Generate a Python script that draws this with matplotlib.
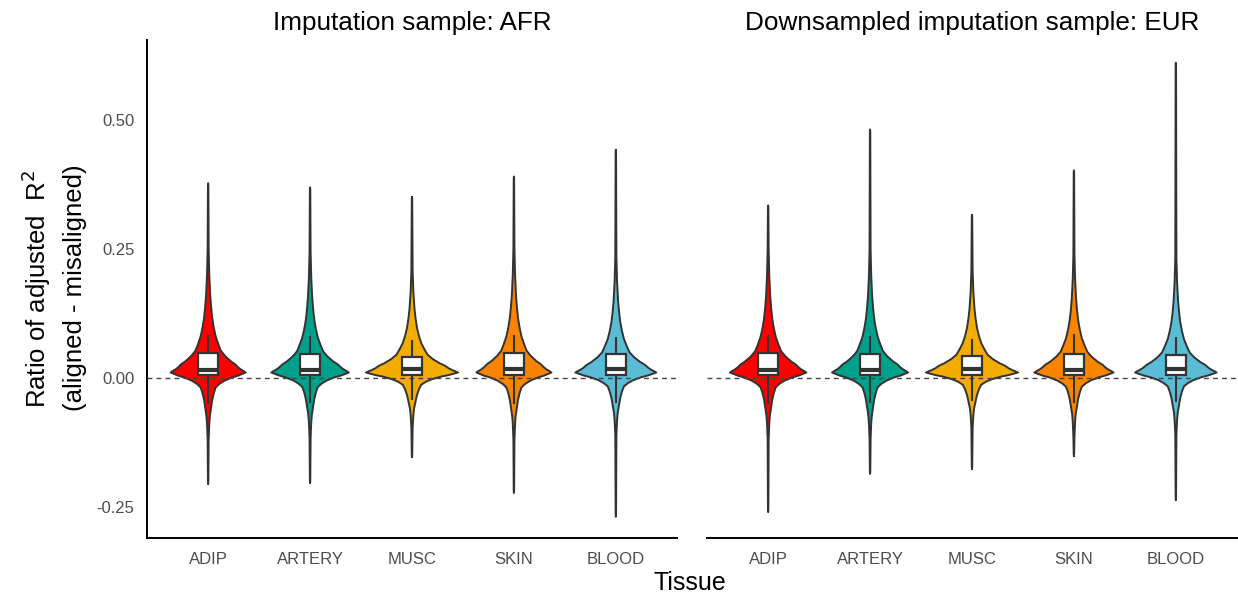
import numpy as np
import matplotlib.pyplot as plt
from matplotlib.patches import Rectangle

plt.rcParams['font.family'] = ['Liberation Sans', 'DejaVu Sans']

tissues = ["ADIP", "ARTERY", "MUSC", "SKIN", "BLOOD"]
colors = ["#FF0000", "#00A08A", "#F2AD00", "#F98400", "#5BBCD6"]
panel_titles = ["Imputation sample: AFR", "Downsampled imputation sample: EUR"]

# values, one entry per tissue
afr_min = [-0.205, -0.203, -0.153, -0.222, -0.268]
afr_max = [0.377, 0.369, 0.351, 0.390, 0.442]
afr_q1 = [0.007, 0.007, 0.007, 0.007, 0.007]
afr_med = [0.016, 0.016, 0.017, 0.017, 0.017]
afr_q3 = [0.048, 0.046, 0.041, 0.048, 0.046]
afr_wlo = [-0.050, -0.048, -0.043, -0.050, -0.048]
afr_whi = [0.083, 0.081, 0.073, 0.084, 0.080]
afr_peak = [0.368, 0.380, 0.451, 0.368, 0.397]   # violin half width at the mode

eur_min = [-0.259, -0.185, -0.176, -0.151, -0.236]
eur_max = [0.334, 0.481, 0.316, 0.402, 0.610]
eur_q1 = [0.007, 0.007, 0.007, 0.007, 0.007]
eur_med = [0.016, 0.016, 0.017, 0.016, 0.017]
eur_q3 = [0.048, 0.046, 0.042, 0.046, 0.044]
eur_wlo = [-0.050, -0.048, -0.045, -0.048, -0.046]
eur_whi = [0.083, 0.081, 0.075, 0.086, 0.080]
eur_peak = [0.375, 0.373, 0.451, 0.389, 0.400]

mode = 0.011
# violin outline (offset from mode, relative width)
up_off = [0.0, 0.003, 0.006, 0.010, 0.016, 0.022, 0.032, 0.042, 0.055, 0.070, 0.087, 0.105, 0.126, 0.150, 0.190, 0.240]
up_w = [1.0, 0.94, 0.87, 0.80, 0.72, 0.60, 0.45, 0.34, 0.27, 0.20, 0.15, 0.11, 0.08, 0.055, 0.03, 0.014]
lo_off = [0.0, -0.003, -0.006, -0.010, -0.016, -0.022, -0.029, -0.040, -0.054, -0.074, -0.085, -0.100, -0.130]
lo_w = [1.0, 0.90, 0.80, 0.62, 0.43, 0.30, 0.20, 0.15, 0.107, 0.067, 0.045, 0.03, 0.014]
tail_w = 0.002

panels = [
    (afr_min, afr_max, afr_q1, afr_med, afr_q3, afr_wlo, afr_whi, afr_peak),
    (eur_min, eur_max, eur_q1, eur_med, eur_q3, eur_wlo, eur_whi, eur_peak),
]

fig = plt.figure(figsize=(12.38, 5.97), dpi=100)
H = 597.0
W = 1238.0
ax_l = fig.add_axes([147 / W, (H - 538) / H, 530 / W, 498 / H])
ax_r = fig.add_axes([707 / W, (H - 538) / H, 530 / W, 498 / H])

edge = "#333333"
for k, ax in enumerate([ax_l, ax_r]):
    vmin, vmax, q1, med, q3, wlo, whi, peak = panels[k]
    for i in range(len(tissues)):
        c = i + 1
        s = afr_peak[0] / peak[i]
        ys = [vmin[i], vmin[i] + 0.004] + [mode + o * s for o in lo_off[::-1]] \
            + [mode + o * s for o in up_off[1:]] + [vmax[i] - 0.004, vmax[i]]
        ws = [0.0, tail_w] + [w * peak[i] for w in lo_w[::-1]] \
            + [w * peak[i] for w in up_w[1:]] + [tail_w, 0.0]
        ys = np.array(ys)
        ws = np.array(ws)
        xs = np.concatenate([c + ws, (c - ws)[::-1]])
        yy = np.concatenate([ys, ys[::-1]])
        ax.fill(xs, yy, facecolor=colors[i], edgecolor=edge, lw=1.4, joinstyle='round', zorder=2)
        # boxplot
        ax.vlines(c, q3[i], whi[i], color=edge, lw=1.5, zorder=4)
        ax.vlines(c, wlo[i], q1[i], color=edge, lw=1.5, zorder=4)
        ax.add_patch(Rectangle((c - 0.1, q1[i]), 0.2, q3[i] - q1[i], facecolor='white',
                               edgecolor=edge, lw=1.6, zorder=5))
        ax.plot([c - 0.1, c + 0.1], [med[i], med[i]], color=edge, lw=3.0, solid_capstyle='butt', zorder=6)

    ax.axhline(0, color='#444444', lw=1.0, ls=(0, (3.5, 3.0)), zorder=3)
    ax.set_xlim(0.4, 5.6)
    ax.set_ylim(-0.309, 0.654)
    ax.set_xticks(range(1, 6))
    ax.set_xticklabels(tissues)
    ax.set_yticks([-0.25, 0.0, 0.25, 0.5])
    ax.set_yticklabels(["-0.25", "0.00", "0.25", "0.50"])
    ax.tick_params(length=0, labelsize=12, colors='#4D4D4D')
    ax.tick_params(axis='x', pad=10)
    ax.tick_params(axis='y', pad=9)
    for sp in ['top', 'right']:
        ax.spines[sp].set_visible(False)
    ax.spines['bottom'].set_linewidth(1.4)
    ax.spines['left'].set_linewidth(1.4)
    ax.set_title(panel_titles[k], fontsize=18.8, pad=7)

ax_r.spines['left'].set_visible(False)
ax_r.set_yticks([])

fig.text(36 / W, 1 - 289 / H, "Ratio of adjusted  R$^2$", rotation=90,
         ha='center', va='center', fontsize=18.5)
fig.text(75 / W, 1 - 288 / H, "(aligned - misaligned)", rotation=90,
         ha='center', va='center', fontsize=18.5)
fig.text(690 / W, 1 - 583 / H, "Tissue", ha='center', va='center', fontsize=18)

fig.savefig("out.png", dpi=100)
